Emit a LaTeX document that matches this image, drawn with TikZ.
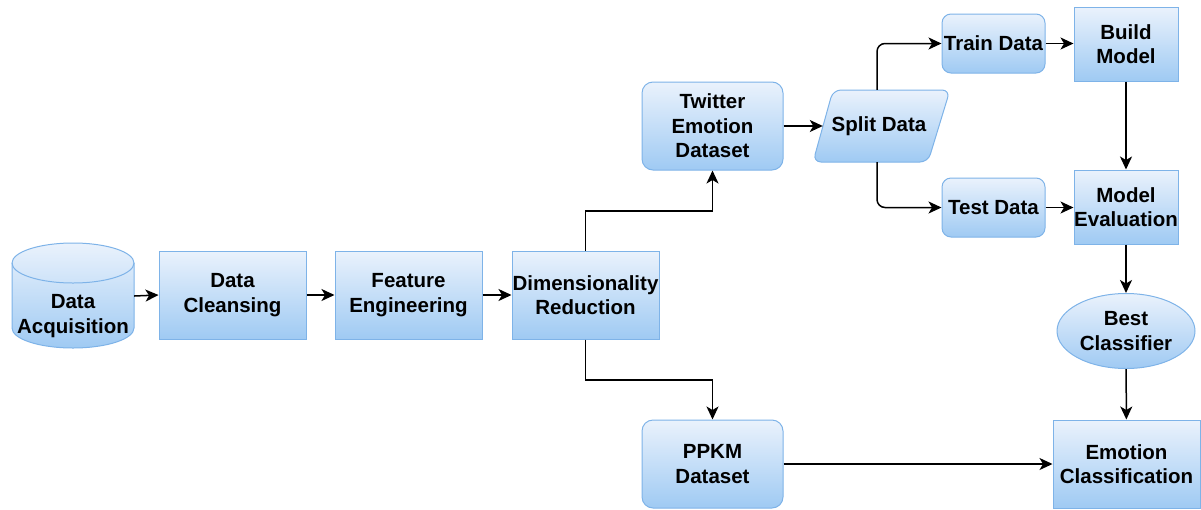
\documentclass[tikz,border=0pt]{standalone}
\usepackage{fontspec}
\setmainfont{Liberation Sans}
\usetikzlibrary{arrows.meta,shapes.geometric}
\definecolor{boxtop}{HTML}{EAF2FC}
\definecolor{boxbot}{HTML}{9FCAF3}
\definecolor{boxline}{HTML}{7EB3E8}
\tikzset{
  every node/.style={font=\fontsize{20.5}{24.5}\selectfont\bfseries, align=center, inner sep=0pt},
  grad/.style={top color=boxtop, bottom color=boxbot, draw=boxline, line width=1pt},
  stepbox/.style={grad, rectangle, minimum width=#1, minimum height=88pt},
  stepbox/.default=147pt,
  roundbox/.style={grad, rectangle, rounded corners=11pt, minimum width=141pt, minimum height=88pt},
  smallbox/.style={grad, rectangle, rounded corners=9pt, minimum width=103pt, minimum height=59pt},
  modelbox/.style={grad, rectangle, minimum width=104pt, minimum height=74pt},
  ghost/.style={rectangle, draw=none, fill=none},
  conn/.style={line width=1.5pt, -{Stealth[length=13pt,width=12pt,inset=3.5pt]}},
}
\begin{document}
\begin{tikzpicture}[x=1pt,y=-1pt]
\useasboundingbox (0,0) rectangle (1201,509);

% data store (cylinder)
\path[grad] (12,263) -- (12,328) arc[start angle=180,end angle=360,x radius=61pt,y radius=20pt]
  -- (134,263) arc[start angle=0,end angle=180,x radius=61pt,y radius=20pt] -- cycle;
\draw[boxline, line width=1pt] (12,263) arc[start angle=180,end angle=360,x radius=61pt,y radius=20pt];
\node[ghost, minimum width=122pt, minimum height=105pt] (acq) at (73,296) {};
\node at (73,316) {Data\\Acquisition};

% preprocessing chain
\node[stepbox] (clean) at (232.5,295) {Data\\Cleansing};
\node[stepbox] (feat) at (408.5,295) {Feature\\Engineering};
\node[stepbox] (dim) at (585.5,295) {Dimensionality\\Reduction};

% datasets
\node[roundbox] (twit) at (712.5,126) {Twitter\\Emotion\\Dataset};
\node[roundbox] (ppkm) at (712.5,464) {PPKM\\Dataset};

% split (parallelogram)
\path[grad, rounded corners=8pt] (833,90) -- (950,90) -- (928,162) -- (813,162) -- cycle;
\node[ghost, minimum width=108pt, minimum height=72pt] (split) at (877,126) {};
\node at (879,126) {Split Data};

% train / test
\node[smallbox] (train) at (993.5,43.5) {Train Data};
\node[smallbox] (test) at (993.5,207.5) {Test Data};
\node[modelbox] (build) at (1126,44) {Build\\Model};
\node[modelbox] (eval) at (1126,207) {Model\\Evaluation};
\node[grad, ellipse, minimum width=138pt, minimum height=75pt] (best) at (1126,331) {Best\\Classifier};
\node[stepbox] (emo) at (1126.5,464) {Emotion\\Classification};

% bend points
\coordinate (upbend) at (585.5,211);
\coordinate (downbend) at (585.5,380);

% connectors
\draw[conn] (acq.east) -- (clean.west);
\draw[conn] (clean) -- (feat);
\draw[conn] (feat) -- (dim);
\draw[conn] (dim.north) -- (upbend) -| (twit.south);
\draw[conn] (dim.south) -- (downbend) -| (ppkm.north);
\draw[conn] (twit.east) -- (split.west);
\draw[conn, rounded corners=8pt] (split.north) |- (train.west);
\draw[conn, rounded corners=8pt] (split.south) |- (test.west);
\draw[conn] (train.east) -- (build.west |- train.east);
\draw[conn] (test.east) -- (eval.west |- test.east);
\draw[conn] (build) -- (eval);
\draw[conn] (eval) -- (best);
\draw[conn] (best) -- (emo);
\draw[conn] (ppkm) -- (emo);
\end{tikzpicture}
\end{document}
